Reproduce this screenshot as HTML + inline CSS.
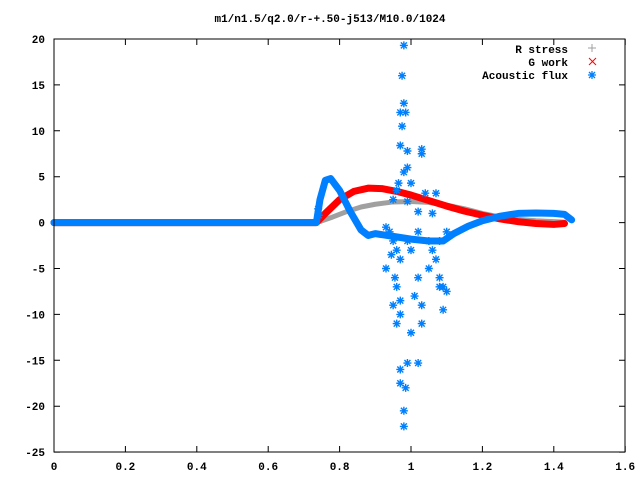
<!DOCTYPE html>
<html><head><meta charset="utf-8"><style>
body{margin:0;background:#fff}
svg{display:block;font-family:"Liberation Mono",monospace;font-size:11px;font-weight:bold}
</style></head><body>
<svg id="chart" width="640" height="480" viewBox="0 0 640 480" xmlns="http://www.w3.org/2000/svg">
<rect width="640" height="480" fill="#fff"/>
<text x="330" y="22" text-anchor="middle">m1/n1.5/q2.0/r-+.50-j513/M10.0/1024</text>
<g id="axes"></g>
<g id="series"></g>
<g>
<text x="568" y="53" text-anchor="end">R stress</text>
<text x="568" y="66" text-anchor="end">G work</text>
<text x="568" y="79" text-anchor="end">Acoustic flux</text>
<path d="M588 48h8M592 44v8" stroke="#a0a0a0" stroke-width="1"/>
<path d="M589 58l7 7M596 58l-7 7" stroke="#f00" stroke-width="1"/>
<path d="M588 75h8M592 71v8M589 72l6 6M595 72l-6 6" stroke="#0080ff" stroke-width="1.3"/>
</g>
<rect x="54" y="39" width="571" height="413" fill="none" stroke="#000"/>
</svg>
<script>
const xTicks=[0,0.2,0.4,0.6,0.8,1,1.2,1.4,1.6];
const yTicks=[20,15,10,5,0,-5,-10,-15,-20,-25];
const rX=[0,0.735,0.78,0.82,0.86,0.9,0.95,1.0,1.05,1.1,1.15,1.2,1.25,1.3,1.35,1.4,1.43];
const rY=[0,0,0.6,1.2,1.7,2.0,2.25,2.3,2.2,1.9,1.5,1.0,0.6,0.35,0.2,0.1,0.05];
const gX=[0,0.735,0.76,0.8,0.84,0.88,0.92,0.96,1.0,1.05,1.1,1.15,1.2,1.25,1.3,1.35,1.4,1.43];
const gY=[0,0,1.0,2.5,3.4,3.75,3.7,3.4,3.0,2.4,1.8,1.25,0.8,0.4,0.1,-0.1,-0.2,-0.1];
const aX=[0,0.735,0.745,0.76,0.775,0.8,0.83,0.86,0.88,0.9,0.95,1.0,1.05,1.09,1.12,1.16,1.2,1.25,1.3,1.35,1.4,1.43,1.45];
const aY=[0,0,2.5,4.6,4.8,3.5,1.2,-0.8,-1.4,-1.2,-1.5,-1.8,-2.0,-2.0,-1.2,-0.4,0.2,0.7,1.0,1.05,1.0,0.9,0.3];
const sX=[0.98,0.975,0.98,0.985,0.97,0.975,0.97,0.99,1.03,1.03,0.99,0.98,1.0,0.965,0.96,1.04,1.07,0.95,0.99,1.02,1.06,0.93,0.94,0.95,0.96,0.945,0.93,0.97,0.99,1.0,1.02,1.05,1.06,1.07,1.08,1.09,1.05,0.955,0.96,0.97,0.97,0.95,1.02,1.01,1.03,1.03,1.0,1.02,0.99,0.97,0.97,0.985,0.98,0.98,1.09,1.08,0.96,1.08,1.1,1.1,0.74,0.742];
const sY=[19.3,16,13,12,12,10.5,8.4,7.8,8,7.5,6,5.5,4.3,4.3,3.5,3.2,3.2,2.5,2.3,1.2,1,-0.5,-1,-2,-3,-3.5,-5,-4,-2,-3,-1,-2,-3,-4,-6,-7,-5,-6,-7,-8.5,-10,-9,-6,-8,-9,-11,-12,-15.3,-15.3,-16,-17.5,-18,-20.5,-22.2,-9.5,-7,-11,-2,-1,-7.5,1.5,0.8];
const X=v=>54+v*357, Y=v=>222.6-v*9.18;
const NS="http://www.w3.org/2000/svg";
const axes=document.getElementById('axes'), ser=document.getElementById('series');
function mk(tag,attrs,parent){const e=document.createElementNS(NS,tag);for(const k in attrs)e.setAttribute(k,attrs[k]);parent.appendChild(e);return e;}
xTicks.forEach(t=>{
  const p=mk('path',{d:`M${X(t)} 452v-6M${X(t)} 39v6`,stroke:'#000'},axes);
  
  
  const l=mk('text',{x:X(t),y:470,'text-anchor':'middle'},axes);l.textContent=String(t);
  
  
});
yTicks.forEach(t=>{
  const p=mk('path',{d:`M54 ${Y(t)}h6M625 ${Y(t)}h-6`,stroke:'#000'},axes);
  
  
  const l=mk('text',{x:45,y:Y(t)+4,'text-anchor':'end'},axes);l.textContent=String(t);
  
  
});
function line(xs,ys,col,w,name){
  const d=xs.map((x,i)=>(i?'L':'M')+X(x)+' '+Y(ys[i])).join('');
  const p=mk('path',{d:d,fill:'none',stroke:col,'stroke-width':w,'stroke-linejoin':'round','stroke-linecap':'round'},ser);
  
  
}
line(rX,rY,'#a0a0a0',5,'r-stress-series');
line(gX,gY,'#ff0000',7,'g-work-series');
line(aX,aY,'#0080ff',7,'acoustic-flux-series');
sX.forEach((x,i)=>{
  const cx=X(x),cy=Y(sY[i]);
  const p=mk('path',{d:`M${cx-4} ${cy}h8M${cx} ${cy-4}v8M${cx-3} ${cy-3}l6 6M${cx+3} ${cy-3}l-6 6`,stroke:'#0080ff','stroke-width':1.4},ser);
  
  
});
</script>
</body></html>
